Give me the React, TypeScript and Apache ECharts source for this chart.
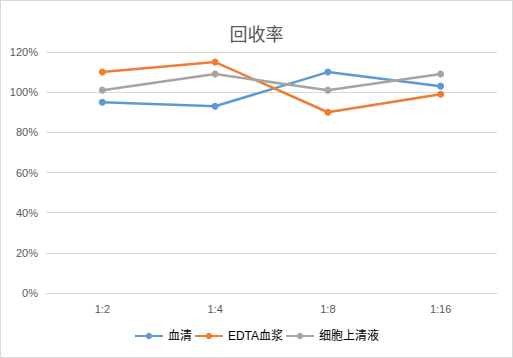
import React, { useEffect, useRef } from "react";
import * as echarts from "echarts";

const categories = ["1:2", "1:4", "1:8", "1:16"];
const serum = [95, 93, 110, 103];
const edtaPlasma = [110, 115, 90, 99];
const cellSupernatant = [101, 109, 101, 109];
const seriesNames = ["血清", "EDTA血浆", "细胞上清液"];
const colors = ["#5B9BD5", "#ED7D31", "#A5A5A5"];

export default function App() {
  const ref = useRef<HTMLDivElement>(null);
  useEffect(() => {
    if (!ref.current) return;
    const chart = echarts.init(ref.current, null, { renderer: "svg" });
    const font = "'Liberation Sans', 'Noto Sans CJK SC', sans-serif";
    const mk = (name: string, data: number[], color: string) => ({
      name,
      type: "line",
      data,
      symbol: "circle",
      symbolSize: 7,
      lineStyle: { width: 2.5, color },
      itemStyle: { color },
    });
    chart.setOption({
      animation: false,
      backgroundColor: "#fff",
      title: {
        text: "回收率",
        left: "center",
        top: 18,
        textStyle: { fontSize: 18, fontWeight: "normal", color: "#595959", fontFamily: "'Noto Sans CJK SC', sans-serif" },
      },
      grid: { left: 45, right: 15, top: 51, bottom: 64 },
      legend: {
        bottom: 10,
        left: "center",
        itemWidth: 28,
        itemHeight: 8,
        itemGap: 2,
        textStyle: { fontSize: 12, color: "#000", fontFamily: font },
        data: seriesNames,
      },
      xAxis: {
        type: "category",
        data: categories,
        axisLine: { lineStyle: { color: "#d9d9d9" } },
        axisTick: { show: false },
        axisLabel: { color: "#595959", fontSize: 11, margin: 10, fontFamily: font },
      },
      yAxis: {
        type: "value",
        min: 0,
        max: 120,
        interval: 20,
        axisLine: { show: false },
        axisTick: { show: false },
        splitLine: { lineStyle: { color: "#d9d9d9" } },
        axisLabel: { color: "#595959", fontSize: 11, margin: 8, fontFamily: font, formatter: "{value}%" },
      },
      series: [
        mk(seriesNames[0], serum, colors[0]),
        mk(seriesNames[1], edtaPlasma, colors[1]),
        mk(seriesNames[2], cellSupernatant, colors[2]),
      ],
    });
    return () => chart.dispose();
  }, []);
  return (
    <div
      ref={ref}
      style={{
        position: "fixed",
        left: 0,
        top: 0,
        width: 513,
        height: 358,
        boxSizing: "border-box",
        border: "1px solid #d9d9d9",
        background: "#fff",
      }}
    />
  );
}
